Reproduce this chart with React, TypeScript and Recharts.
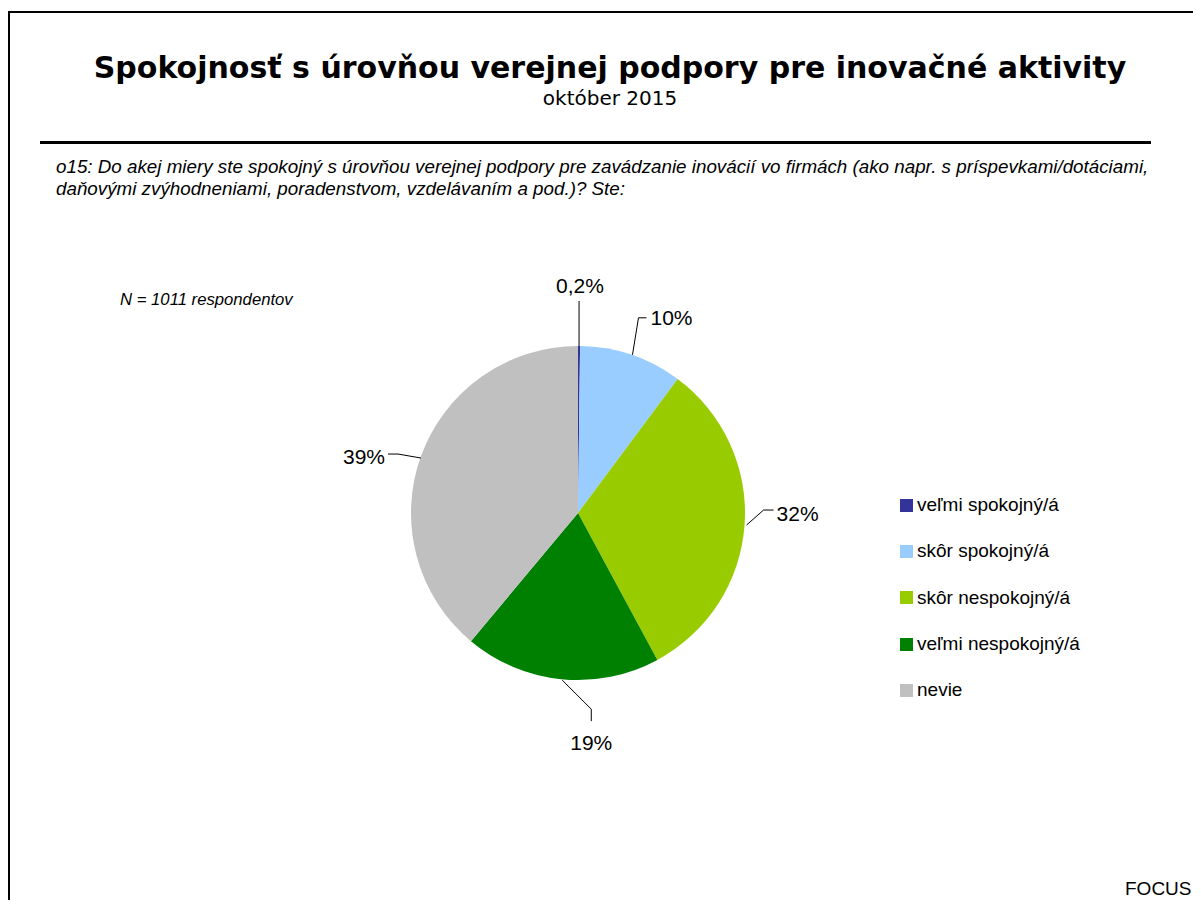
import React from "react";
import { PieChart, Pie, Cell, Legend } from "recharts";

const categories = [
  "veľmi spokojný/á",
  "skôr spokojný/á",
  "skôr nespokojný/á",
  "veľmi nespokojný/á",
  "nevie",
];
const values = [0.2, 10, 32, 19, 39];
const valueLabels = ["0,2%", "10%", "32%", "19%", "39%"];
const colors = ["#333399", "#99CCFF", "#99CC00", "#008000", "#C0C0C0"];

const title = "Spokojnosť s úrovňou verejnej podpory pre inovačné aktivity";
const subtitle = "október 2015";
const questionLine1 =
  "o15: Do akej miery ste spokojný s úrovňou verejnej podpory pre zavádzanie inovácií vo firmách (ako napr. s príspevkami/dotáciami,";
const questionLine2 = "daňovými zvýhodneniami, poradenstvom, vzdelávaním a pod.)? Ste:";
const sampleNote = "N = 1011 respondentov";
const sourceNote = "FOCUS";
const chartNumber = "Graf č. 16";

const data = categories.map((name, i) => ({ name, value: values[i], label: valueLabels[i] }));

const RAD = Math.PI / 180;

// leader line geometry per slice (offsets from slice edge midpoint)
const leaders: { pts: [number, number][]; text: [number, number]; anchor: "start" | "middle" | "end" }[] = [
  { pts: [[0, 0], [0, -45]], text: [1, -61], anchor: "middle" },
  { pts: [[1, 0], [7, -37], [15, -37]], text: [19, -37], anchor: "start" },
  { pts: [[2, 0], [19, -15], [29, -15]], text: [32, -12], anchor: "start" },
  { pts: [[1, 1], [30, 30], [30, 42]], text: [30, 63], anchor: "middle" },
  { pts: [[0, 2], [-23, -2], [-33, -2]], text: [-36, 0], anchor: "end" },
];

const renderLabel = (props: any) => {
  const { cx, cy, midAngle, outerRadius, index } = props;
  const ex = cx + outerRadius * Math.cos(-midAngle * RAD);
  const ey = cy + outerRadius * Math.sin(-midAngle * RAD);
  const l = leaders[index];
  const path = l.pts.map((p, i) => `${i === 0 ? "M" : "L"}${ex + p[0]},${ey + p[1]}`).join(" ");
  return (
    <g key={`lbl-${index}`}>
      <path d={path} stroke="#000" strokeWidth={1} fill="none" />
      <text
        x={ex + l.text[0]}
        y={ey + l.text[1]}
        textAnchor={l.anchor}
        dominantBaseline="central"
        fontFamily="'Liberation Sans', Arial, sans-serif"
        fontSize={21}
        fill="#000"
      >
        {data[index].label}
      </text>
    </g>
  );
};

const LegendContent = () => (
  <div style={{ fontFamily: "'Liberation Sans', Arial, sans-serif", fontSize: 19, color: "#000" }}>
    {data.map((d, i) => (
      <div key={d.name} style={{ display: "flex", alignItems: "center", height: 46.3 }}>
        <span style={{ display: "inline-block", width: 13, height: 13, background: colors[i], marginRight: 4 }} />
        <span>{d.name}</span>
      </div>
    ))}
  </div>
);

export default function App() {
  return (
    <div style={{ position: "relative", margin: -8, width: 1201, height: 908, overflow: "hidden", background: "#fff" }}>
      <div
        style={{
          position: "absolute",
          left: 0,
          top: -15,
          fontFamily: "'Liberation Sans', Arial, sans-serif",
          fontSize: 22,
          color: "#000",
          whiteSpace: "nowrap",
        }}
      >
        {chartNumber}
      </div>
      <div
        style={{
          position: "absolute",
          left: 8,
          top: 11,
          width: 1300,
          height: 1000,
          border: "2px solid #000",
        }}
      />
      <div
        style={{
          position: "absolute",
          left: 0,
          width: 1220,
          top: 48,
          textAlign: "center",
          fontFamily: "'DejaVu Sans', Verdana, sans-serif",
          fontWeight: "bold",
          fontSize: 30,
          lineHeight: "40px",
          color: "#000",
          whiteSpace: "nowrap",
        }}
      >
        {title}
      </div>
      <div
        style={{
          position: "absolute",
          left: 0,
          width: 1220,
          top: 85,
          textAlign: "center",
          fontFamily: "'DejaVu Sans', Verdana, sans-serif",
          fontSize: 20,
          lineHeight: "26px",
          color: "#000",
        }}
      >
        {subtitle}
      </div>
      <div style={{ position: "absolute", left: 40, top: 141, width: 1111, height: 3, background: "#000" }} />
      <div
        style={{
          position: "absolute",
          left: 56,
          top: 156,
          fontFamily: "'Liberation Sans', Arial, sans-serif",
          fontStyle: "italic",
          fontSize: 18.8,
          lineHeight: "22px",
          color: "#000",
          whiteSpace: "nowrap",
        }}
      >
        <div>{questionLine1}</div>
        <div>{questionLine2}</div>
      </div>
      <div
        style={{
          position: "absolute",
          left: 120,
          top: 290,
          fontFamily: "'Liberation Sans', Arial, sans-serif",
          fontStyle: "italic",
          fontSize: 16.7,
          lineHeight: "20px",
          color: "#000",
          whiteSpace: "nowrap",
        }}
      >
        {sampleNote}
      </div>
      <div
        style={{
          position: "absolute",
          left: 1125,
          top: 878,
          fontFamily: "'Liberation Sans', Arial, sans-serif",
          fontSize: 19,
          lineHeight: "22px",
          color: "#000",
          whiteSpace: "nowrap",
        }}
      >
        {sourceNote}
      </div>
      <div style={{ position: "absolute", left: 0, top: 0 }}>
        <PieChart width={1201} height={908} margin={{ top: 0, right: 0, bottom: 0, left: 0 }}>
          <Pie
            data={data}
            dataKey="value"
            nameKey="name"
            cx={578}
            cy={513}
            outerRadius={167}
            startAngle={90}
            endAngle={-270}
            stroke="none"
            label={renderLabel}
            labelLine={false}
            isAnimationActive={false}
          >
            {data.map((d, i) => (
              <Cell key={d.name} fill={colors[i]} />
            ))}
          </Pie>
          <Legend
            layout="vertical"
            content={<LegendContent />}
            wrapperStyle={{ position: "absolute", left: 900, top: 482, width: 250 }}
          />
        </PieChart>
      </div>
    </div>
  );
}
